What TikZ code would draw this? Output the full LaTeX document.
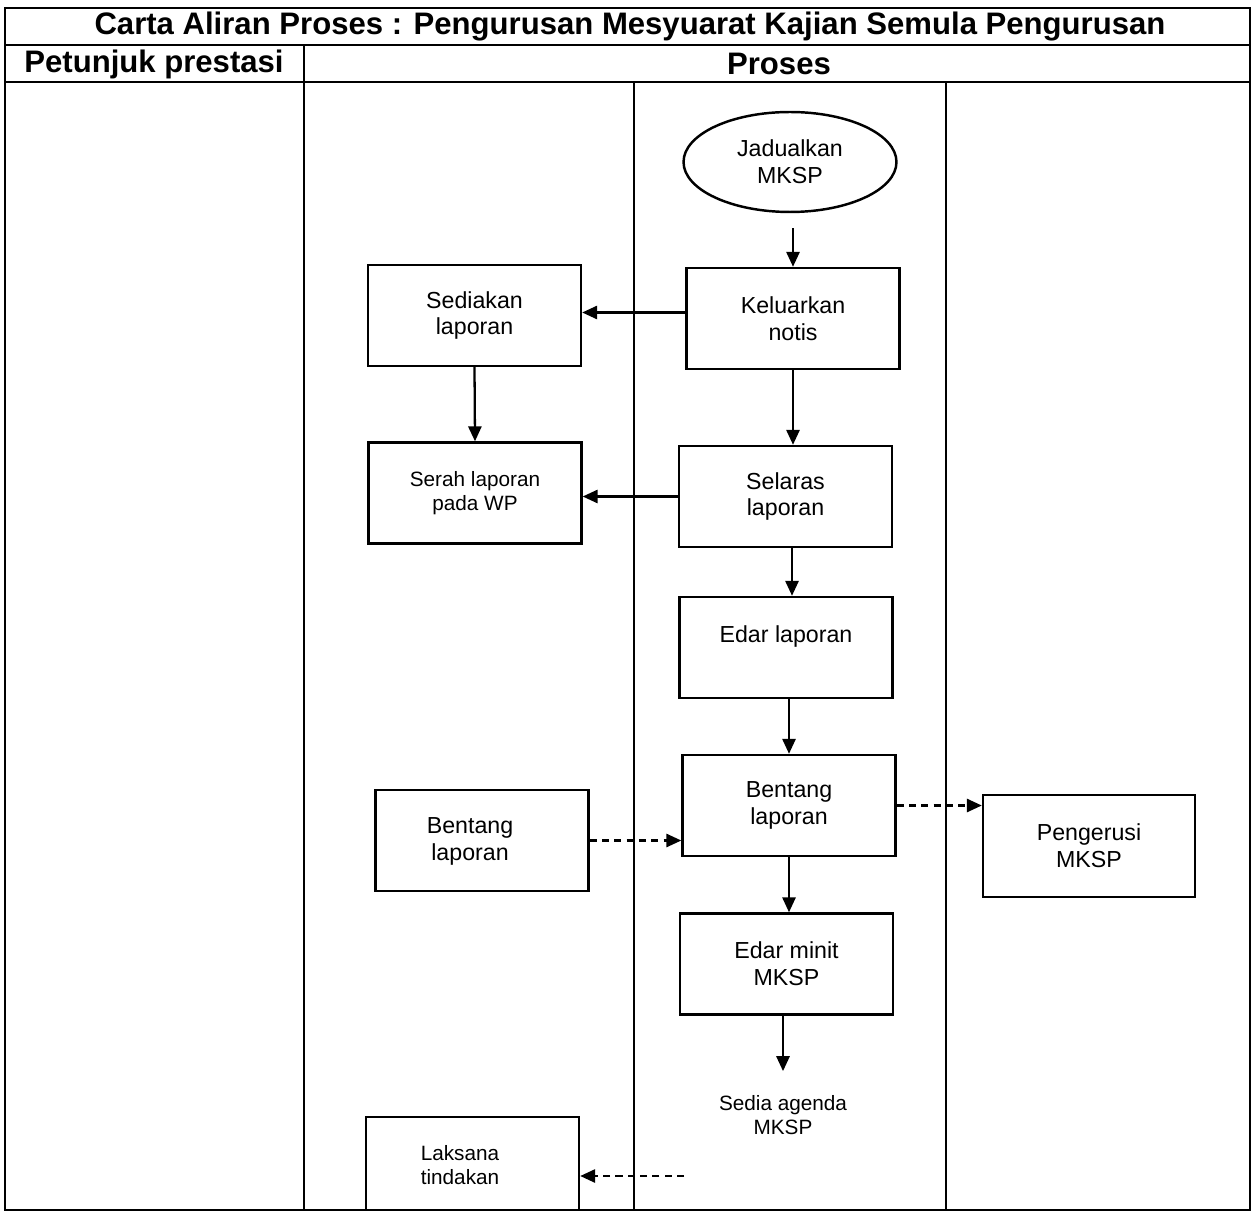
\documentclass[tikz,border=0pt]{standalone}
\usepackage{fontspec}
\setmainfont{Liberation Sans}
\usetikzlibrary{arrows.meta,shapes.geometric}
\begin{document}
\begin{tikzpicture}[x=0.02cm,y=-0.02cm,
  txt/.style={align=center,inner sep=0pt,font=\fontsize{13.2}{15.3}\selectfont},
  small/.style={align=center,inner sep=0pt,font=\fontsize{11.8}{13.6}\selectfont},
  box/.style={txt,draw,line width=1.4pt,minimum width=4.26cm,minimum height=2.02cm},
  hdr/.style={inner sep=0pt,font=\fontsize{17.7}{20}\selectfont\bfseries},
  arr/.style={-{Triangle[length=8.5pt,width=7.5pt]},line width=1.3pt},
  darr/.style={arr,dash pattern=on 4pt off 3pt},
  frame/.style={line width=1.4pt},
  lane/.style={line width=1.1pt}]
\useasboundingbox (0,0) rectangle (1253,1212);
% frame
\draw[frame] (5,8) rectangle (1250,1210);
\draw[frame] (5,45) -- (1250,45);
\draw[frame] (5,82) -- (1250,82);
\draw[frame] (304,45) -- (304,1210);
\draw[lane] (634,82) -- (634,1210);
\draw[lane] (946,82) -- (946,1210);
% headers
\node[hdr] (title) at (630,27) {Carta Aliran Proses : Pengurusan Mesyuarat Kajian Semula Pengurusan};
\node[hdr] (hpi) at (154,64) {Petunjuk prestasi};
\node[hdr] (hpr) at (779,64) {Proses};
% nodes
\node[txt,draw,ellipse,line width=1.4pt,minimum width=4.26cm,minimum height=2cm] (jad) at (790,162) {Jadualkan\\MKSP};
\node[box] (keluar) at (793,318.5) {Keluarkan\\notis};
\node[box] (sedia) at (474.5,315.5) {Sediakan\\laporan};
\node[box,small] (serah) at (475,493) {Serah laporan\\pada WP};
\node[box] (selaras) at (785.5,496.5) {Selaras\\laporan};
\node[box] (edar) at (786,647.5) {Edar laporan\\\mbox{}};
\node[box] (bentangM) at (789,805.5) {Bentang\\laporan};
\node[box] (bentangL) at (482,840.5) {};
\node[txt] (bentangLt) at (470,841) {Bentang\\laporan};
\node[box,minimum width=4.24cm,minimum height=2.04cm] (peng) at (1089,846) {Pengerusi\\MKSP};
\node[box] (edarmin) at (786.5,964) {Edar minit\\MKSP};
\node[small] (sediaag) at (783,1115) {Sedia agenda\\MKSP};
\node[box,minimum height=1.86cm] (laksana) at (472.5,1163.5) {};
\node[small] (laksanat) at (460,1165) {Laksana\\tindakan};
\coordinate (lk) at (684,1176);
% connectors
\draw[arr,shorten <=0.3cm] (keluar.north |- jad.south) -- (keluar.north);
\draw[arr] ([yshift=0.12cm]keluar.west) -- ([yshift=0.12cm]keluar.west -| sedia.east);
\draw[arr] (sedia.south) -- (serah.north);
\draw[arr] (keluar.south) -- (keluar.south |- selaras.north);
\draw[arr] (selaras.west) -- (selaras.west -| serah.east);
\draw[arr] ([xshift=0.13cm]selaras.south) -- ([xshift=0.13cm]selaras.south |- edar.north);
\draw[arr] (bentangM.north |- edar.south) -- (bentangM.north);
\draw[darr] (bentangL.east) -- (bentangL.east -| bentangM.west);
\draw[darr] (bentangM.east) -- (bentangM.east -| peng.west);
\draw[arr] (bentangM.south) -- (bentangM.south |- edarmin.north);
\draw[arr,shorten >=0.48cm] (sediaag.north |- edarmin.south) -- (sediaag.north);
\draw[darr] (lk) -- (lk -| laksana.east);
\end{tikzpicture}
\end{document}
